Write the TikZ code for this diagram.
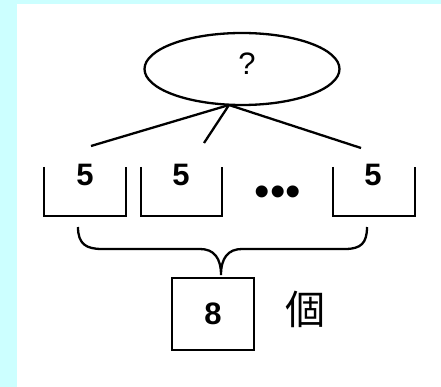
\documentclass[tikz,border=0pt]{standalone}
\usepackage{fontspec}
\setmainfont{Liberation Sans}
\newfontfamily\cjk{Noto Sans CJK JP}
\usetikzlibrary{shapes.geometric}
\definecolor{bgcyan}{HTML}{CCFFFF}

\begin{document}
\begin{tikzpicture}[
x=1pt,
y=-1pt,
line width=2.3pt,
every node/.style={font=\fontsize{31}{34}\selectfont\bfseries},
]
% background
\fill[bgcyan] (0,0) rectangle (441,387);
\fill[white] (17,4) rectangle (441,387);
\useasboundingbox (0,0) rectangle (441,387);

%% top
% nodes
\node[draw, ellipse, minimum width=195, minimum height=72, inner sep=0] (Q) at (242,69) {};
\node[font=\fontsize{31}{34}\selectfont] at (247,64) {?};
\coordinate (apex) at (229,105);
\coordinate (a1) at (91,146);
\coordinate (a2) at (204,143);
\coordinate (a3) at (361,148);
% lines
\draw (apex) -- (a1);
\draw (apex) -- (a2);
\draw (apex) -- (a3);

%% cups
% nodes
\node (F1) at (85,175) {5};
\node (F2) at (181,175) {5};
\node (F3) at (373,175) {5};
\node[font=\fontsize{44}{46}\selectfont] (dots) at (278,196) {\textbullet\textbullet\textbullet};
% cups
\draw (44,167) -- (44,216) -- (126,216) -- (126,167);
\draw (141,167) -- (141,216) -- (222,216) -- (222,167);
\draw (333,167) -- (333,216) -- (415,216) -- (415,167);

%% brace
\coordinate (tip) at (221,275);
\draw (78,227) .. controls (78,244) and (86,249) .. (102,249) -- (200,249)
  .. controls (214,249) and (221,258) .. (tip)
  .. controls (221,258) and (228,249) .. (242,249) -- (345,249)
  .. controls (361,249) and (367,243) .. (367,227);

%% bottom
\node[draw, minimum width=82, minimum height=72, inner sep=0] (E) at (213,314) {8};
\node[font=\fontsize{40}{44}\selectfont\cjk] (ko) at (305,309) {個};
\end{tikzpicture}
\end{document}
